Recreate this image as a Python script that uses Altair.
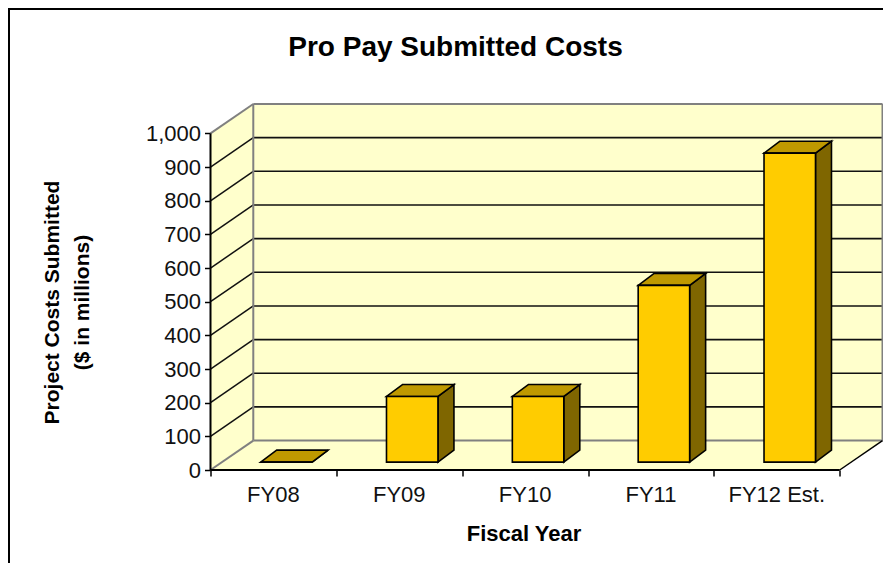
import altair as alt
import pandas as pd

categories = ["FY08", "FY09", "FY10", "FY11", "FY12 Est."]
values = [0, 195, 195, 525, 918]
y_ticks = list(range(0, 1001, 100))

FONT = "Liberation Sans"
WALL = "#FFFFCC"
FRONT = "#FFCC00"
TOP = "#BF9900"
SIDE = "#7F6600"
GRAY = "#808080"

X_MAX = 5.0
WALL_DX = 0.34
WALL_DY = 87.5
BAR_DX0 = 0.103
BAR_W = 0.409
BAR_DY0 = 23.5
BAR_DDX = 0.127
BAR_DDY = 35.5

xs = alt.Scale(domain=[0, X_MAX + WALL_DX], nice=False, zero=False)
ys = alt.Scale(domain=[0, 1000 + WALL_DY], nice=False, zero=False)
X = lambda f="x", **k: alt.X(f"{f}:Q", scale=xs, axis=k.pop("axis", None), **k)
Y = lambda f="y", **k: alt.Y(f"{f}:Q", scale=ys, axis=k.pop("axis", None), **k)
X2 = alt.X2("x2:Q")
Y2 = alt.Y2("y2:Q")


def seg(rows):
    return alt.Chart(pd.DataFrame(rows))


y_title = ["Project Costs Submitted", "($ in millions)"]
y_axis = alt.Axis(
    orient="left",
    values=y_ticks,
    format=",d",
    domain=False,
    tickColor="black",
    tickWidth=1.5,
    tickSize=6,
    labelPadding=4,
    labelFont=FONT,
    labelFontSize=22,
    labelColor="#111111",
    grid=False,
    title=y_title,
    titleFont=FONT,
    titleFontSize=21,
    titleFontWeight="bold",
    titleColor="black",
    titleLineHeight=30,
    titleAngle=270,
    titleX=-148.5,
    titleY=198,
    titleAlign="center",
    titleBaseline="bottom",
)
x_axis = alt.Axis(
    orient="bottom",
    values=list(range(0, 6)),
    labels=False,
    domain=False,
    grid=False,
    tickColor="black",
    tickWidth=1.5,
    tickSize=6,
    title="Fiscal Year",
    titleFont=FONT,
    titleFontSize=22,
    titleFontWeight="bold",
    titleColor="black",
    titleX=313,
    titleY=75,
    titleAlign="center",
    titleBaseline="bottom",
)

layers = []

layers.append(
    seg([{"x": WALL_DX, "x2": X_MAX + WALL_DX, "y": WALL_DY, "y2": 1000 + WALL_DY}])
    .mark_rect(color=WALL)
    .encode(x=X(axis=x_axis), x2=X2, y=Y(axis=y_axis), y2=Y2)
)
layers.append(
    seg([{"x": 0, "y": 0, "y2": 1000}, {"x": WALL_DX, "y": WALL_DY, "y2": 1000 + WALL_DY}])
    .mark_area(color=WALL, opacity=1)
    .encode(x=X(), y=Y(), y2=Y2)
)
layers.append(
    seg([{"y": 0, "x": 0, "x2": X_MAX}, {"y": WALL_DY, "x": WALL_DX, "x2": X_MAX + WALL_DX}])
    .mark_area(color=WALL, opacity=1, orient="horizontal")
    .encode(y=Y(), x=X(), x2=X2)
)

grid_back = [
    {"x": WALL_DX, "x2": X_MAX + WALL_DX, "y": v + WALL_DY} for v in y_ticks[1:-1]
]
layers.append(
    seg(grid_back).mark_rule(color="#111111", strokeWidth=1.6).encode(x=X(), x2=X2, y=Y())
)
grid_side = []
for v in y_ticks[1:-1]:
    grid_side += [{"g": v, "x": 0, "y": v}, {"g": v, "x": WALL_DX, "y": v + WALL_DY}]
layers.append(
    seg(grid_side)
    .mark_line(color="#111111", strokeWidth=1.5)
    .encode(x=X(), y=Y(), detail="g:N")
)

gray_h = [
    {"x": WALL_DX, "x2": X_MAX + WALL_DX, "y": WALL_DY},
    {"x": WALL_DX, "x2": X_MAX + WALL_DX, "y": 1000 + WALL_DY},
]
layers.append(seg(gray_h).mark_rule(color=GRAY, strokeWidth=2).encode(x=X(), x2=X2, y=Y()))
gray_v = [
    {"x": WALL_DX, "y": WALL_DY, "y2": 1000 + WALL_DY},
    {"x": X_MAX + WALL_DX, "y": WALL_DY, "y2": 1000 + WALL_DY},
]
layers.append(seg(gray_v).mark_rule(color=GRAY, strokeWidth=2).encode(x=X(), y=Y(), y2=Y2))
gray_d = [
    {"g": 0, "x": 0, "y": 0},
    {"g": 0, "x": WALL_DX, "y": WALL_DY},
    {"g": 1, "x": 0, "y": 1000},
    {"g": 1, "x": WALL_DX, "y": 1000 + WALL_DY},
]
layers.append(
    seg(gray_d).mark_line(color=GRAY, strokeWidth=2).encode(x=X(), y=Y(), detail="g:N")
)

layers.append(
    seg([{"g": 0, "x": X_MAX, "y": 0}, {"g": 0, "x": X_MAX + WALL_DX, "y": WALL_DY}])
    .mark_line(color="black", strokeWidth=1.5)
    .encode(x=X(), y=Y(), detail="g:N")
)

front_rows, side_rows, top_rows = [], [], []
for i, (c, v) in enumerate(zip(categories, values)):
    x0 = i + 0.5 - BAR_W / 2 + BAR_DX0
    x1 = x0 + BAR_W
    b = BAR_DY0
    front_rows.append({"c": c, "x": x0, "x2": x1, "y": b, "y2": b + v})
    side_rows += [
        {"c": c, "x": x1, "y": b, "y2": b + v},
        {"c": c, "x": x1 + BAR_DDX, "y": b + BAR_DDY, "y2": b + BAR_DDY + v},
    ]
    top_rows += [
        {"c": c, "y": b + v, "x": x0, "x2": x1},
        {"c": c, "y": b + v + BAR_DDY, "x": x0 + BAR_DDX, "x2": x1 + BAR_DDX},
    ]
stroke = dict(stroke="black", strokeWidth=1.6, opacity=1, strokeJoin="miter")
layers.append(
    seg(side_rows)
    .mark_area(color=SIDE, **stroke)
    .encode(x=X(), y=Y(), y2=Y2, detail="c:N")
)
layers.append(
    seg(top_rows)
    .mark_area(color=TOP, orient="horizontal", **stroke)
    .encode(y=Y(), x=X(), x2=X2, detail="c:N")
)
layers.append(
    seg(front_rows)
    .mark_rect(color=FRONT, stroke="black", strokeWidth=1.6)
    .encode(x=X(), x2=X2, y=Y(), y2=Y2)
)

# axis lines
layers.append(
    seg([{"y": 0, "y2": 1000, "x": 0}])
    .mark_rule(color="black", strokeWidth=2)
    .encode(x=X(), y=Y(), y2=Y2)
)
layers.append(
    seg([{"x": 0, "x2": X_MAX, "y": 0}])
    .mark_rule(color="black", strokeWidth=2)
    .encode(x=X(), x2=X2, y=Y())
)

# category labels
layers.append(
    seg([{"c": c, "x": i + 0.5} for i, c in enumerate(categories)])
    .mark_text(font=FONT, fontSize=22, color="#111111", dy=25)
    .encode(x=X(), y=alt.value(366), text="c:N")
)

# outer frame
layers.append(
    seg([{"k": 1}])
    .mark_rule(color="black", strokeWidth=2)
    .encode(x=alt.value(-201.5), y=alt.value(-95), y2=alt.value(459))
)
layers.append(
    seg([{"k": 1}])
    .mark_rule(color="black", strokeWidth=2)
    .encode(x=alt.value(-202.5), x2=alt.value(672.5), y=alt.value(-95))
)

chart = (
    alt.layer(*layers)
    .resolve_axis(x="independent", y="independent")
    .properties(
        width=672,
        height=366,
        background="white",
        padding={"left": 202.5, "top": 96, "right": 0.5, "bottom": 93},
        autosize=alt.AutoSizeParams(type="none"),
        title=alt.TitleParams(
            "Pro Pay Submitted Costs",
            font=FONT,
            fontSize=28,
            fontWeight="bold",
            color="black",
            anchor="middle",
            frame="group",
            dx=-91,
            dy=54,
            offset=0,
        ),
    )
    .configure_view(stroke="transparent", strokeWidth=0)
)

chart.save("out.html", embed_options={"renderer": "svg", "actions": False})
